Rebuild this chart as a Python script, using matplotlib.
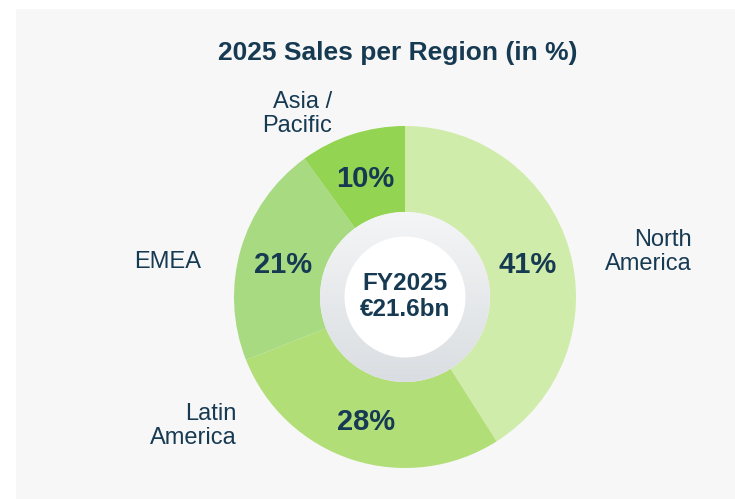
import numpy as np
import matplotlib
matplotlib.use("Agg")
import matplotlib.pyplot as plt
from matplotlib.patches import Circle, Rectangle

# ---- data ----
regions = ["North\nAmerica", "Latin\nAmerica", "EMEA", "Asia /\nPacific"]
shares = [41, 28, 21, 10]
colors = ["#d0ecaa", "#b2de78", "#a8da82", "#93d452"]
title = "2025 Sales per Region (in %)"
center_lines = ["FY2025", "\u20ac21.6bn"]

# label anchor positions (right edge x, center y) in pixels from top-left
label_pos = [(692, 252), (237, 426), (201, 262), (332, 114)]

W, H = 735, 499
TXT = "#173a53"
plt.rcParams['font.family'] = ['Liberation Sans', 'DejaVu Sans']

fig = plt.figure(figsize=(W / 100, H / 100), dpi=100)
fig.patch.set_facecolor("white")
ax = fig.add_axes([0, 0, 1, 1])

def Y(y):
    return H - y

cx, cy = 405, Y(297)
R_out, R_in, R_white = 171, 85, 60.5

ax.add_patch(Rectangle((16, 0), W - 16, H - 9, facecolor="#f7f7f7", edgecolor="none", zorder=0))

wedges, _, autotexts = ax.pie(
    shares, colors=colors, startangle=90, counterclock=False,
    radius=R_out, center=(cx, cy),
    wedgeprops=dict(width=R_out - R_in, edgecolor="none"),
    autopct=lambda p: f"{p:.0f}%", pctdistance=0.745,
    textprops=dict(color=TXT, fontsize=21, fontweight="bold"))
for w in wedges:
    w.set_zorder(2)
for t in autotexts:
    t.set_zorder(5)
    px, py = t.get_position()
    t.set_position((px, py - 3.5))

# gradient inner ring
grad = np.linspace(0, 1, 256).reshape(-1, 1)
top = np.array([0.957, 0.961, 0.965])
bot = np.array([0.855, 0.871, 0.886])
img = top[None, None, :] * (1 - grad[:, :, None]) + bot[None, None, :] * grad[:, :, None]
im = ax.imshow(img, extent=[cx - R_in, cx + R_in, cy - R_in, cy + R_in],
               origin="upper", zorder=3, interpolation="bilinear")
clip = Circle((cx, cy), R_in, transform=ax.transData)
im.set_clip_path(clip)
ax.add_patch(Circle((cx, cy), R_white, facecolor="white", edgecolor="none", zorder=4))

ax.text(cx, Y(283), center_lines[0], ha="center", va="center", fontsize=17.5,
        fontweight="bold", color=TXT, zorder=6)
ax.text(cx, Y(309), center_lines[1], ha="center", va="center", fontsize=17.5,
        fontweight="bold", color=TXT, zorder=6)

for name, (x, y) in zip(regions, label_pos):
    ax.text(x, Y(y), name, ha="right", va="center", multialignment="right",
            fontsize=17, color=TXT, linespacing=1.12, zorder=6)

ax.text(398, Y(53), title, ha="center", va="center", fontsize=19,
        fontweight="bold", color=TXT, zorder=6)

ax.set_xlim(0, W)
ax.set_ylim(0, H)
ax.set_aspect("equal")
ax.axis("off")

fig.savefig("out.png", dpi=100, facecolor="white")
